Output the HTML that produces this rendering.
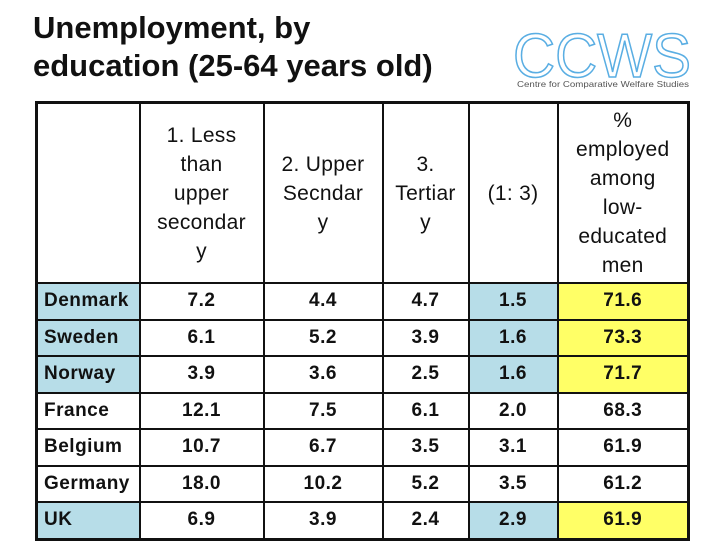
<!DOCTYPE html>
<html><head><meta charset="utf-8"><style>
body{margin:0;width:720px;height:540px;background:#fff;overflow:hidden;font-family:"Liberation Sans",Arial,sans-serif;position:relative}
.title{position:absolute;left:33px;top:9px;font-size:31px;font-weight:bold;line-height:38px;color:#111}
table{position:absolute;left:35px;top:101px;border-collapse:collapse;border:3px solid #111}
td{border:2px solid #111;padding:0;text-align:center;color:#111;font-size:19px;font-weight:bold;letter-spacing:0.5px}
tr.h td{font-size:21px;font-weight:normal;line-height:29px;height:178px;letter-spacing:0.3px}
tr.r td{height:34.5px}
td.c{text-align:left;padding-left:6px}
.b{background:#b7dde8}.y{background:#ffff66}
</style></head><body>
<div class="title">Unemployment, by<br>education (25-64 years old)</div>
<svg style="position:absolute;left:505px;top:20px" width="195" height="75">
<text x="8" y="57" font-family="Liberation Sans" font-size="62" fill="none" stroke="#5aaee3" stroke-width="1.6" textLength="178" lengthAdjust="spacingAndGlyphs">CCWS</text>
<text x="12" y="67" font-family="Liberation Sans" font-size="8.5" fill="#555" textLength="172" lengthAdjust="spacingAndGlyphs">Centre for Comparative Welfare Studies</text>
</svg>
<table>
<colgroup><col style="width:103px"><col style="width:124px"><col style="width:119px"><col style="width:86px"><col style="width:89px"><col style="width:131px"></colgroup>
<tr class="h">
<td></td>
<td>1. Less<br>than<br>upper<br>secondar<br>y</td>
<td>2. Upper<br>Secndar<br>y</td>
<td>3.<br>Tertiar<br>y</td>
<td>(1: 3)</td>
<td>%<br>employed<br>among<br>low-<br>educated<br>men</td>
</tr>
<tr class="r"><td class="c b">Denmark</td><td>7.2</td><td>4.4</td><td>4.7</td><td class="b">1.5</td><td class="y">71.6</td></tr>
<tr class="r"><td class="c b">Sweden</td><td>6.1</td><td>5.2</td><td>3.9</td><td class="b">1.6</td><td class="y">73.3</td></tr>
<tr class="r"><td class="c b">Norway</td><td>3.9</td><td>3.6</td><td>2.5</td><td class="b">1.6</td><td class="y">71.7</td></tr>
<tr class="r"><td class="c">France</td><td>12.1</td><td>7.5</td><td>6.1</td><td>2.0</td><td>68.3</td></tr>
<tr class="r"><td class="c">Belgium</td><td>10.7</td><td>6.7</td><td>3.5</td><td>3.1</td><td>61.9</td></tr>
<tr class="r"><td class="c">Germany</td><td>18.0</td><td>10.2</td><td>5.2</td><td>3.5</td><td>61.2</td></tr>
<tr class="r"><td class="c b">UK</td><td>6.9</td><td>3.9</td><td>2.4</td><td class="b">2.9</td><td class="y">61.9</td></tr>
</table>
</body></html>
